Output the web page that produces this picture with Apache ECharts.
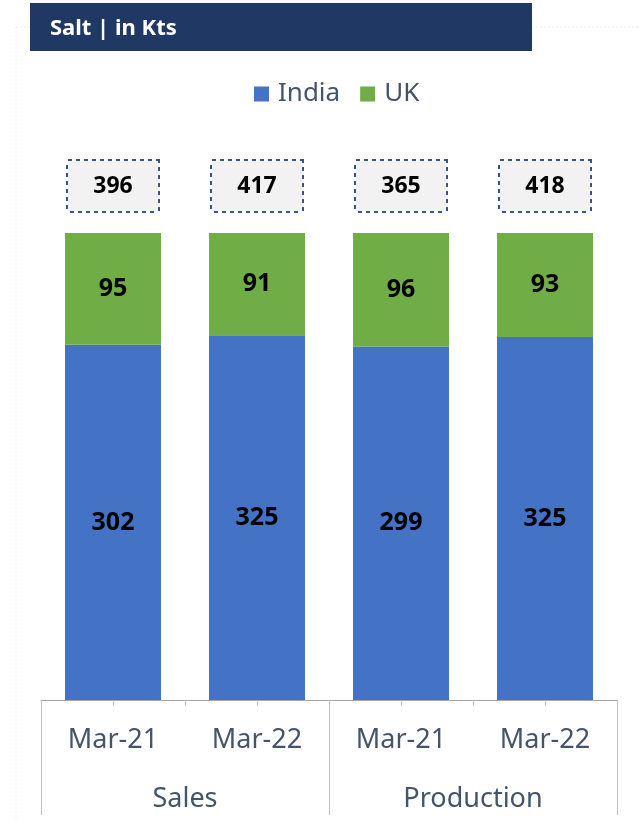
<!DOCTYPE html>
<html>
<head>
<meta charset="utf-8">
<script src="https://cdn.jsdelivr.net/npm/echarts@6/dist/echarts.min.js"></script>
<style>
  html, body { margin: 0; padding: 0; background: #fff; }
  #chart { width: 639px; height: 822px; }
</style>
</head>
<body>
<div id="chart"></div>
<script>
  // data
  const periods = ['Mar-21', 'Mar-22', 'Mar-21', 'Mar-22']
  const groups = ['Sales', 'Production']
  const india = [302, 325, 299, 325]
  const uk = [95, 91, 96, 93]
  const totals = [396, 417, 365, 418] // as printed on the chart

  // bars are 100% stacked
  const indiaPct = india.map((v, i) => v / (v + uk[i]) * 100)
  const ukPct = indiaPct.map(p => 100 - p)

  const font = '"Noto Sans", sans-serif'
  const txtColor = '#44546a'
  const gridLine = '#bfbfbf'

  const chart = echarts.init(document.getElementById('chart'))
  chart.setOption({
    animation: false,
    graphic: [
      // faint frame
      { type: 'line', shape: { x1: 16, y1: 27, x2: 639, y2: 27 }, style: { stroke: '#ededed', lineWidth: 1, lineDash: [2, 2] }, z: 0 },
      { type: 'line', shape: { x1: 16, y1: 27, x2: 16, y2: 822 }, style: { stroke: '#ededed', lineWidth: 1, lineDash: [2, 2] }, z: 0 },
      // title banner
      { type: 'rect', shape: { x: 30, y: 3, width: 502, height: 48 }, style: { fill: '#203864' }, z: 10 },
      { type: 'text', x: 50, y: 29, style: { text: 'Salt | in Kts', fill: '#fff', font: 'bold 22px ' + font, verticalAlign: 'middle' }, z: 11 },
    ],
    legend: {
      data: ['India', 'UK'],
      top: 76,
      left: 249,
      itemWidth: 15,
      itemHeight: 15,
      itemGap: 20,
      icon: 'rect',
      textStyle: { fontFamily: font, fontSize: 26, color: txtColor, padding: [0, 0, 0, 4] },
    },
    grid: { left: 41, right: 22, top: 233, bottom: 122 },
    xAxis: [
      {
        type: 'category',
        data: periods,
        position: 'bottom',
        axisLine: { lineStyle: { color: '#a6a6a6', width: 1 } },
        axisTick: { show: true, interval: 0, length: 6, lineStyle: { color: gridLine } },
        axisLabel: { interval: 0, margin: 27, fontFamily: font, fontSize: 27, color: txtColor },
      },
      {
        // tick marks under bar centres
        type: 'category',
        data: periods,
        position: 'bottom',
        axisLine: { show: false },
        axisTick: { show: true, alignWithLabel: true, interval: 0, length: 6, lineStyle: { color: gridLine } },
        axisLabel: { show: false },
      },
      {
        // group level
        type: 'category',
        data: groups,
        position: 'bottom',
        axisLine: { show: false },
        axisTick: { show: true, interval: 0, length: 115, lineStyle: { color: gridLine } },
        axisLabel: { interval: 0, margin: 86, fontFamily: font, fontSize: 27, color: txtColor },
      },
    ],
    yAxis: {
      type: 'value',
      min: 0,
      max: 100,
      show: false,
      splitLine: { show: false },
    },
    series: [
      {
        name: 'India',
        type: 'bar',
        stack: 'salt',
        xAxisIndex: 0,
        barWidth: 96,
        data: indiaPct,
        itemStyle: { color: '#4472c4' },
        label: {
          show: true,
          position: 'inside',
          formatter: p => india[p.dataIndex],
          fontFamily: font, fontSize: 25, fontWeight: 'bold', color: '#000',
        },
      },
      {
        name: 'UK',
        type: 'bar',
        stack: 'salt',
        xAxisIndex: 0,
        barWidth: 96,
        data: ukPct,
        itemStyle: { color: '#70ad47' },
        label: {
          show: true,
          position: 'inside',
          formatter: p => uk[p.dataIndex],
          fontFamily: font, fontSize: 25, fontWeight: 'bold', color: '#000',
        },
      },
      {
        name: 'Total',
        type: 'bar',
        stack: 'salt',
        xAxisIndex: 0,
        barWidth: 96,
        data: totals.map(() => 0),
        itemStyle: { color: 'transparent' },
        label: {
          show: true,
          position: 'top',
          distance: 22,
          formatter: p => totals[p.dataIndex],
          fontFamily: font, fontSize: 23, fontWeight: 'bold', color: '#000',
          backgroundColor: '#f2f2f2',
          borderColor: '#2f5597',
          borderWidth: 2,
          borderType: 'dotted',
          width: 90,
          height: 50,
          lineHeight: 50,
          align: 'center',
        },
      },
    ],
  })
</script>
</body>
</html>
